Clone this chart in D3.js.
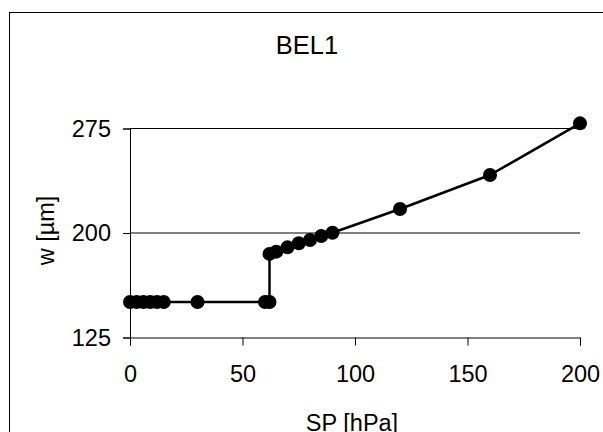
<!DOCTYPE html>
<html>
<head>
<meta charset="utf-8">
<script src="https://cdn.jsdelivr.net/npm/d3@7"></script>
<style>
  html, body { margin: 0; padding: 0; background: #fff; }
  svg { display: block; font-family: "Liberation Sans", Arial, sans-serif; }
</style>
</head>
<body>
<svg id="chart" width="603" height="432"></svg>
<script>
// Pressure (hPa) vs. width (µm) for sample BEL1
const pressure = [0, 3, 6, 9, 12, 15, 30, 60, 62, 62, 65, 70, 75, 80, 85, 90, 120, 160, 200];
const width    = [150.5, 150.5, 150.5, 150.5, 150.5, 150.5, 150.5, 150.5, 150.5, 185, 186.6, 189.7, 192.6, 195, 197.8, 200.2, 217.2, 241.6, 278.7];
const xTicks = [0, 50, 100, 150, 200];
const yTicks = [125, 200, 275];
const titleText = "BEL1";
const xLabel = "SP [hPa]";
const yLabel = "w [µm]";

const svg = d3.select("#chart");

// outer chart border (right/bottom edges fall outside the view)
svg.append("rect")
  .attr("x", 9.5).attr("y", 12.5)
  .attr("width", 620).attr("height", 440)
  .attr("fill", "#fff").attr("stroke", "#000").attr("stroke-width", 1);

const x = d3.scaleLinear().domain([0, 200]).range([130, 580]);
const y = d3.scaleLinear().domain([125, 275]).range([337.5, 128.5]);

// horizontal gridlines
svg.append("g")
  .selectAll("line")
  .data(yTicks.filter(d => d !== 125))
  .join("line")
  .attr("x1", x(0)).attr("x2", x(200))
  .attr("y1", d => y(d)).attr("y2", d => y(d))
  .attr("stroke", "#000").attr("stroke-width", 1);

// x axis
const xAxis = svg.append("g")
  .attr("transform", `translate(0,${y(125)})`)
  .call(d3.axisBottom(x).tickValues(xTicks).tickSize(8).tickPadding(20).tickFormat(d3.format("d")));
xAxis.select(".domain").attr("stroke", "#000");
xAxis.selectAll(".tick line").attr("stroke", "#000");
xAxis.selectAll("text")
  .attr("font-size", "23.5px").attr("fill", "#000")
  .attr("font-family", "Liberation Sans, Arial, sans-serif");

// y axis
const yAxis = svg.append("g")
  .attr("transform", `translate(${x(0)},0)`)
  .call(d3.axisLeft(y).tickValues(yTicks).tickSize(7).tickPadding(12).tickFormat(d3.format("d")));
yAxis.select(".domain").attr("stroke", "#000");
yAxis.selectAll(".tick line").attr("stroke", "#000");
yAxis.selectAll("text")
  .attr("font-size", "23.5px").attr("fill", "#000")
  .attr("font-family", "Liberation Sans, Arial, sans-serif");

// data line
const pts = pressure.map((p, i) => [p, width[i]]);
svg.append("path")
  .datum(pts)
  .attr("fill", "none")
  .attr("stroke", "#000")
  .attr("stroke-width", 2.5)
  .attr("stroke-linejoin", "round")
  .attr("d", d3.line().x(d => x(d[0])).y(d => y(d[1])));

// markers
svg.append("g")
  .selectAll("circle")
  .data(pts)
  .join("circle")
  .attr("cx", d => x(d[0]))
  .attr("cy", d => y(d[1]))
  .attr("r", 7)
  .attr("fill", "#000");

// title
svg.append("text")
  .attr("x", 307).attr("y", 54)
  .attr("text-anchor", "middle")
  .attr("font-size", "25.5px")
  .text(titleText);

// axis titles
svg.append("text")
  .attr("x", 352).attr("y", 431)
  .attr("text-anchor", "middle")
  .attr("font-size", "23.5px")
  .text(xLabel);

svg.append("text")
  .attr("transform", "translate(54,230.5) rotate(-90)")
  .attr("text-anchor", "middle")
  .attr("font-size", "23.5px")
  .text(yLabel);
</script>
</body>
</html>
